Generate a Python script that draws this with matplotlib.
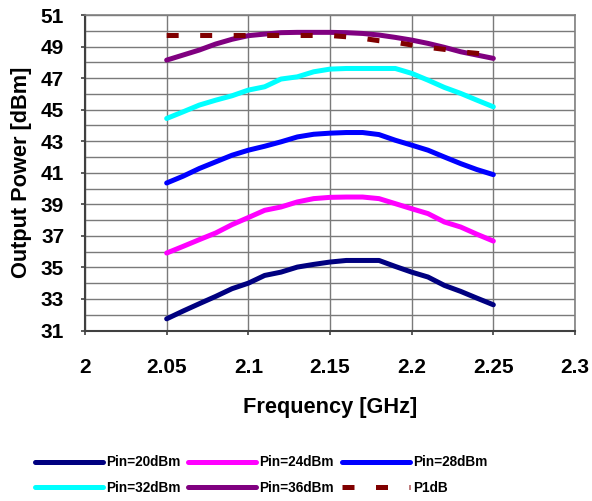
import matplotlib
matplotlib.use("Agg")
import matplotlib.pyplot as plt
import numpy as np

freq = [2.05, 2.06, 2.07, 2.08, 2.09, 2.10, 2.11, 2.12, 2.13, 2.14, 2.15,
        2.16, 2.17, 2.18, 2.19, 2.20, 2.21, 2.22, 2.23, 2.24, 2.25]
pin20 = [31.74, 32.23, 32.70, 33.16, 33.65, 34.00, 34.49, 34.70, 35.02, 35.19, 35.34,
         35.44, 35.44, 35.44, 35.06, 34.70, 34.39, 33.86, 33.48, 33.05, 32.63]
pin24 = [35.91, 36.33, 36.76, 37.18, 37.71, 38.16, 38.62, 38.83, 39.15, 39.36, 39.44,
         39.46, 39.46, 39.36, 39.04, 38.72, 38.41, 37.88, 37.56, 37.10, 36.67]
pin28 = [40.35, 40.78, 41.27, 41.69, 42.11, 42.43, 42.68, 42.96, 43.27, 43.44, 43.51,
         43.55, 43.55, 43.42, 43.06, 42.75, 42.43, 42.00, 41.58, 41.20, 40.88]
pin32 = [44.44, 44.86, 45.29, 45.60, 45.88, 46.24, 46.45, 46.94, 47.08, 47.40, 47.57,
         47.61, 47.61, 47.61, 47.61, 47.30, 46.87, 46.41, 46.03, 45.60, 45.18]
pin36 = [48.14, 48.46, 48.78, 49.16, 49.46, 49.69, 49.79, 49.88, 49.90, 49.90, 49.90,
         49.88, 49.83, 49.73, 49.58, 49.41, 49.20, 48.95, 48.67, 48.46, 48.25]
p1db = [49.70, 49.70, 49.70, 49.70, 49.70, 49.70, 49.70, 49.70, 49.70, 49.70, 49.70,
        49.62, 49.52, 49.37, 49.27, 49.10, 48.95, 48.82, 48.67, 48.57, 48.45]

labels = ["Pin=20dBm", "Pin=24dBm", "Pin=28dBm", "Pin=32dBm", "Pin=36dBm", "P1dB"]
colors = ["#000080", "#FF00FF", "#0000FF", "#00FFFF", "#800080", "#800000"]

xticks = [2, 2.05, 2.1, 2.15, 2.2, 2.25, 2.3]
xticklabels = ["2", "2.05", "2.1", "2.15", "2.2", "2.25", "2.3"]
yticks = list(range(31, 52, 2))

plt.rcParams['font.family'] = ['Liberation Sans', 'DejaVu Sans']
plt.rcParams['font.weight'] = 'bold'

fig = plt.figure(figsize=(5.92, 5.01), dpi=100)
ax = fig.add_axes([85/592, 1-330.5/501, (575-85)/592, (330.5-15)/501])

series = [pin20, pin24, pin28, pin32, pin36]
handles = []
for s, lab, c in zip(series, labels[:5], colors[:5]):
    h, = ax.plot(freq, s, color=c, lw=3.6, solid_capstyle='round',
                 solid_joinstyle='round', label=lab, zorder=3)
    handles.append(h)
h, = ax.plot(freq, p1db, color=colors[5], lw=3.6, linestyle=(0, (2.4, 4.3)),
             dash_capstyle='butt', label=labels[5], zorder=4)
handles.append(h)

ax.set_xlim(2, 2.3)
ax.set_ylim(31, 51)
ax.set_xticks(xticks)
ax.set_xticklabels(xticklabels)
ax.set_yticks(yticks)
ax.set_yticks(range(31, 52), minor=True)
ax.tick_params(axis='both', which='major', labelsize=15, length=3, width=1.2,
               color='#404040', direction='out')
ax.tick_params(axis='x', pad=16.5)
ax.tick_params(axis='y', pad=12)
ax.tick_params(axis='y', which='minor', length=0)
for lab in ax.get_xticklabels() + ax.get_yticklabels():
    lab.set_fontweight('bold')

ax.grid(True, which='both', color='#7a7a7a', lw=1.0)
ax.set_axisbelow(True)
for side in ['top', 'right']:
    ax.spines[side].set_color('#808080')
    ax.spines[side].set_linewidth(1.2)
for side in ['left', 'bottom']:
    ax.spines[side].set_color('#404040')
    ax.spines[side].set_linewidth(1.5)

ax.set_xlabel("Frequency [GHz]", fontsize=15.7, fontweight='bold', labelpad=15)
ax.set_ylabel("Output Power [dBm]", fontsize=15.7, fontweight='bold', labelpad=6)

order = [0, 3, 1, 4, 2, 5]
fig.legend([handles[i] for i in order], [labels[i] for i in order],
           ncol=3, loc='center', bbox_to_anchor=(0.441, 1-475/501),
           frameon=False, handlelength=5.0, handletextpad=0.22,
           columnspacing=0.6, labelspacing=0.82, borderpad=0.2,
           prop={'weight': 'bold', 'size': 9.8})

fig.savefig("out.png", dpi=100)
